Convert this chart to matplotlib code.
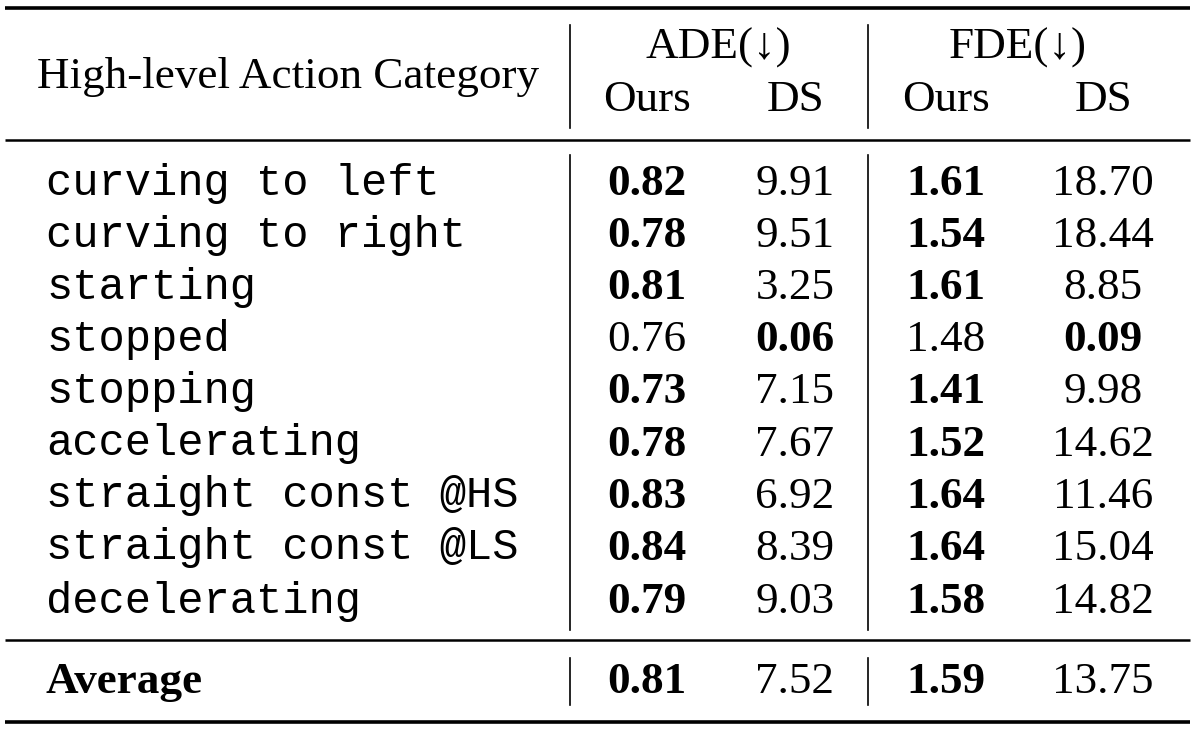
import matplotlib
matplotlib.use("Agg")
import matplotlib.pyplot as plt

categories = ["curving to left", "curving to right", "starting", "stopped", "stopping",
              "accelerating", "straight const @HS", "straight const @LS", "decelerating"]
ade_ours = ["0.82", "0.78", "0.81", "0.76", "0.73", "0.78", "0.83", "0.84", "0.79"]
ade_ds = ["9.91", "9.51", "3.25", "0.06", "7.15", "7.67", "6.92", "8.39", "9.03"]
fde_ours = ["1.61", "1.54", "1.61", "1.48", "1.41", "1.52", "1.64", "1.64", "1.58"]
fde_ds = ["18.70", "18.44", "8.85", "0.09", "9.98", "14.62", "11.46", "15.04", "14.82"]
avg = ["0.81", "7.52", "1.59", "13.75"]

fig = plt.figure(figsize=(11.97, 7.31), dpi=100)
ax = fig.add_axes([0, 0, 1, 1])
ax.set_xlim(0, 1197); ax.set_ylim(731, 0); ax.axis("off")
serif = ["Liberation Serif", "DejaVu Serif"]
mono = "Liberation Mono"
fs = 32.5
mfs = 31.5

def hline(y, lw):
    ax.plot([5, 1190], [y, y], color="black", lw=lw, solid_capstyle="butt")
def vline(x, y0, y1):
    ax.plot([x, x], [y0, y1], color="black", lw=1.2)

hline(8, 2.6); hline(140, 1.8); hline(640, 1.8); hline(722, 2.6)
for x in (570, 868):
    vline(x, 25, 128); vline(x, 155, 630); vline(x, 658, 705)

ax.text(288, 77, "High-level Action Category", family=serif, fontsize=fs, ha="center", va="center")
ax.text(718, 48, "ADE(↓)", family=["Liberation Serif", "DejaVu Sans"], fontsize=fs, ha="center", va="center")
ax.text(1018, 48, "FDE(↓)", family=["Liberation Serif", "DejaVu Sans"], fontsize=fs, ha="center", va="center")
cols = [647, 795, 946, 1103]
for x, t in zip(cols, ["Ours", "DS", "Ours", "DS"]):
    ax.text(x, 100, t, family=serif, fontsize=fs, ha="center", va="center")

ys = [182, 234, 286, 338, 390, 443, 495, 547, 600]
for i, y in enumerate(ys):
    ax.text(46, y + 1, categories[i], family=mono, fontsize=mfs, ha="left", va="center")
    vals = [ade_ours[i], ade_ds[i], fde_ours[i], fde_ds[i]]
    for pair in ((0, 1), (2, 3)):
        a, b = float(vals[pair[0]]), float(vals[pair[1]])
        best = pair[0] if a < b else pair[1]
        for k in pair:
            ax.text(cols[k], y + 2, vals[k], family=serif, fontsize=fs, ha="center", va="center",
                    fontweight="bold" if k == best else "normal")

ax.text(46, 682, "Average", family=serif, fontsize=fs, fontweight="bold", ha="left", va="center")
for k, v in enumerate(avg):
    ax.text(cols[k], 682, v, family=serif, fontsize=fs, ha="center", va="center",
            fontweight="bold" if k in (0, 2) else "normal")

fig.savefig("out.png", dpi=100, facecolor="white")
